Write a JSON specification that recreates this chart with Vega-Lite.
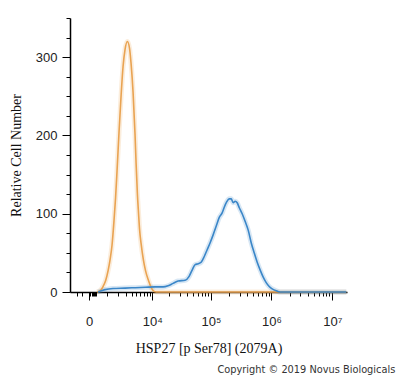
{
  "$schema": "https://vega.github.io/schema/vega-lite/v6.json",
  "autosize": {"type": "none"},
  "padding": {"left": 70, "top": 18, "right": 53, "bottom": 86},
  "width": 277,
  "height": 274,
  "background": "white",
  "config": {
    "view": {"stroke": null},
    "axis": {
      "domainColor": "#000",
      "domainWidth": 1.5,
      "tickColor": "#000",
      "tickWidth": 1,
      "grid": false,
      "labelFont": "Liberation Sans",
      "labelFontSize": 13,
      "labelColor": "#222",
      "titleFont": "Liberation Serif",
      "titleFontSize": 14,
      "titleFontWeight": "normal",
      "titleColor": "#111"
    }
  },
  "title": {
    "text": "Copyright © 2019 Novus Biologicals",
    "orient": "bottom",
    "anchor": "end",
    "font": "DejaVu Sans",
    "fontSize": 9.8,
    "fontWeight": "normal",
    "color": "#333",
    "dx": 39,
    "offset": 10
  },
  "data": {
    "values": [
      {"sample": "Isotype control", "x": 354, "count": 0},
      {"sample": "Isotype control", "x": 576, "count": 3},
      {"sample": "Isotype control", "x": 700, "count": 7},
      {"sample": "Isotype control", "x": 884, "count": 15},
      {"sample": "Isotype control", "x": 1055, "count": 27},
      {"sample": "Isotype control", "x": 1217, "count": 41},
      {"sample": "Isotype control", "x": 1391, "count": 60},
      {"sample": "Isotype control", "x": 1580, "count": 92},
      {"sample": "Isotype control", "x": 1731, "count": 120},
      {"sample": "Isotype control", "x": 1890, "count": 155},
      {"sample": "Isotype control", "x": 2118, "count": 205},
      {"sample": "Isotype control", "x": 2363, "count": 250},
      {"sample": "Isotype control", "x": 2628, "count": 288},
      {"sample": "Isotype control", "x": 2914, "count": 310},
      {"sample": "Isotype control", "x": 3272, "count": 320},
      {"sample": "Isotype control", "x": 3642, "count": 311},
      {"sample": "Isotype control", "x": 3913, "count": 292},
      {"sample": "Isotype control", "x": 4301, "count": 255},
      {"sample": "Isotype control", "x": 4718, "count": 200},
      {"sample": "Isotype control", "x": 4938, "count": 165},
      {"sample": "Isotype control", "x": 5237, "count": 126},
      {"sample": "Isotype control", "x": 5527, "count": 100},
      {"sample": "Isotype control", "x": 5780, "count": 80},
      {"sample": "Isotype control", "x": 6178, "count": 62},
      {"sample": "Isotype control", "x": 6833, "count": 41},
      {"sample": "Isotype control", "x": 7511, "count": 27},
      {"sample": "Isotype control", "x": 8470, "count": 15},
      {"sample": "Isotype control", "x": 9490, "count": 6},
      {"sample": "Isotype control", "x": 10310, "count": 2},
      {"sample": "Isotype control", "x": 11670, "count": 0},
      {"sample": "Isotype control", "x": 17000000, "count": 0},
      {"sample": "HSP27 [p Ser78]", "x": 406, "count": 0},
      {"sample": "HSP27 [p Ser78]", "x": 834, "count": 3},
      {"sample": "HSP27 [p Ser78]", "x": 1483, "count": 4.5},
      {"sample": "HSP27 [p Ser78]", "x": 2914, "count": 5},
      {"sample": "HSP27 [p Ser78]", "x": 4718, "count": 5.5},
      {"sample": "HSP27 [p Ser78]", "x": 7354, "count": 6},
      {"sample": "HSP27 [p Ser78]", "x": 11200, "count": 6.5},
      {"sample": "HSP27 [p Ser78]", "x": 15520, "count": 6.5},
      {"sample": "HSP27 [p Ser78]", "x": 18970, "count": 8},
      {"sample": "HSP27 [p Ser78]", "x": 23140, "count": 11},
      {"sample": "HSP27 [p Ser78]", "x": 28170, "count": 14},
      {"sample": "HSP27 [p Ser78]", "x": 37040, "count": 15},
      {"sample": "HSP27 [p Ser78]", "x": 43270, "count": 20},
      {"sample": "HSP27 [p Ser78]", "x": 48610, "count": 28},
      {"sample": "HSP27 [p Ser78]", "x": 54580, "count": 35},
      {"sample": "HSP27 [p Ser78]", "x": 61280, "count": 36},
      {"sample": "HSP27 [p Ser78]", "x": 68770, "count": 38},
      {"sample": "HSP27 [p Ser78]", "x": 77160, "count": 45},
      {"sample": "HSP27 [p Ser78]", "x": 86600, "count": 54},
      {"sample": "HSP27 [p Ser78]", "x": 97100, "count": 63},
      {"sample": "HSP27 [p Ser78]", "x": 108900, "count": 73},
      {"sample": "HSP27 [p Ser78]", "x": 122200, "count": 84},
      {"sample": "HSP27 [p Ser78]", "x": 137000, "count": 95},
      {"sample": "HSP27 [p Ser78]", "x": 153600, "count": 101},
      {"sample": "HSP27 [p Ser78]", "x": 165800, "count": 108},
      {"sample": "HSP27 [p Ser78]", "x": 182400, "count": 115},
      {"sample": "HSP27 [p Ser78]", "x": 200600, "count": 119},
      {"sample": "HSP27 [p Ser78]", "x": 216500, "count": 119},
      {"sample": "HSP27 [p Ser78]", "x": 233700, "count": 114},
      {"sample": "HSP27 [p Ser78]", "x": 252200, "count": 116},
      {"sample": "HSP27 [p Ser78]", "x": 272100, "count": 114},
      {"sample": "HSP27 [p Ser78]", "x": 293500, "count": 108},
      {"sample": "HSP27 [p Ser78]", "x": 329000, "count": 100},
      {"sample": "HSP27 [p Ser78]", "x": 368800, "count": 90},
      {"sample": "HSP27 [p Ser78]", "x": 413300, "count": 79},
      {"sample": "HSP27 [p Ser78]", "x": 463200, "count": 63},
      {"sample": "HSP27 [p Ser78]", "x": 519000, "count": 50},
      {"sample": "HSP27 [p Ser78]", "x": 581700, "count": 38},
      {"sample": "HSP27 [p Ser78]", "x": 651800, "count": 28},
      {"sample": "HSP27 [p Ser78]", "x": 730500, "count": 19},
      {"sample": "HSP27 [p Ser78]", "x": 818600, "count": 12},
      {"sample": "HSP27 [p Ser78]", "x": 917300, "count": 7},
      {"sample": "HSP27 [p Ser78]", "x": 1028000, "count": 4},
      {"sample": "HSP27 [p Ser78]", "x": 1196000, "count": 1.5},
      {"sample": "HSP27 [p Ser78]", "x": 1392000, "count": 0},
      {"sample": "HSP27 [p Ser78]", "x": 17000000, "count": 0}
    ]
  },
  "encoding": {
    "x": {
      "field": "x",
      "type": "quantitative",
      "scale": {"type": "symlog", "constant": 1000, "domain": [-1055, 17460000], "nice": false, "zero": false},
      "axis": {
        "title": "HSP27 [p Ser78] (2079A)",
        "values": [-600, -300, 0, 50, 100, 150, 200, 250, 300, 1000, 2000, 3000, 4000, 5000, 6000, 7000, 8000, 9000, 10000, 20000, 30000, 40000, 50000, 60000, 70000, 80000, 90000, 100000, 200000, 300000, 400000, 500000, 600000, 700000, 800000, 900000, 1000000, 2000000, 3000000, 4000000, 5000000, 6000000, 7000000, 8000000, 9000000, 10000000],
        "labelExpr": "datum.value == 0 ? '0' : datum.value == 10000 ? '10⁴' : datum.value == 100000 ? '10⁵' : datum.value == 1000000 ? '10⁶' : datum.value == 10000000 ? '10⁷' : ''",
        "labelOverlap": false,
        "labelFlush": false,
        "tickSize": {"condition": {"test": "indexof([0,10000,100000,1000000,10000000], datum.value) >= 0", "value": 8}, "value": 4},
        "labelPadding": 15,
        "titlePadding": 13
      }
    },
    "y": {
      "field": "count",
      "type": "quantitative",
      "scale": {"domain": [0, 350], "nice": false},
      "axis": {
        "title": "Relative Cell Number",
        "values": [0, 25, 50, 75, 100, 125, 150, 175, 200, 225, 250, 275, 300, 325, 350],
        "labelExpr": "datum.value % 100 == 0 ? datum.label : ''",
        "labelOverlap": false,
        "tickSize": {"condition": {"test": "datum.value % 100 == 0", "value": 8}, "value": 4},
        "labelPadding": 5,
        "titlePadding": 12
      }
    },
    "color": {
      "field": "sample",
      "type": "nominal",
      "scale": {"domain": ["Isotype control", "HSP27 [p Ser78]"], "range": ["#E9A352", "#3A86C8"]},
      "legend": null
    }
  },
  "layer": [
    {"mark": {"type": "line", "strokeWidth": 5, "opacity": 0.2, "interpolate": "monotone"}},
    {"transform": [{"filter": "datum.sample == 'Isotype control'"}], "mark": {"type": "line", "strokeWidth": 1.6, "interpolate": "monotone"}},
    {"transform": [{"filter": "datum.sample == 'HSP27 [p Ser78]'"}], "mark": {"type": "line", "strokeWidth": 1.6, "interpolate": "monotone"}}
  ]
}
